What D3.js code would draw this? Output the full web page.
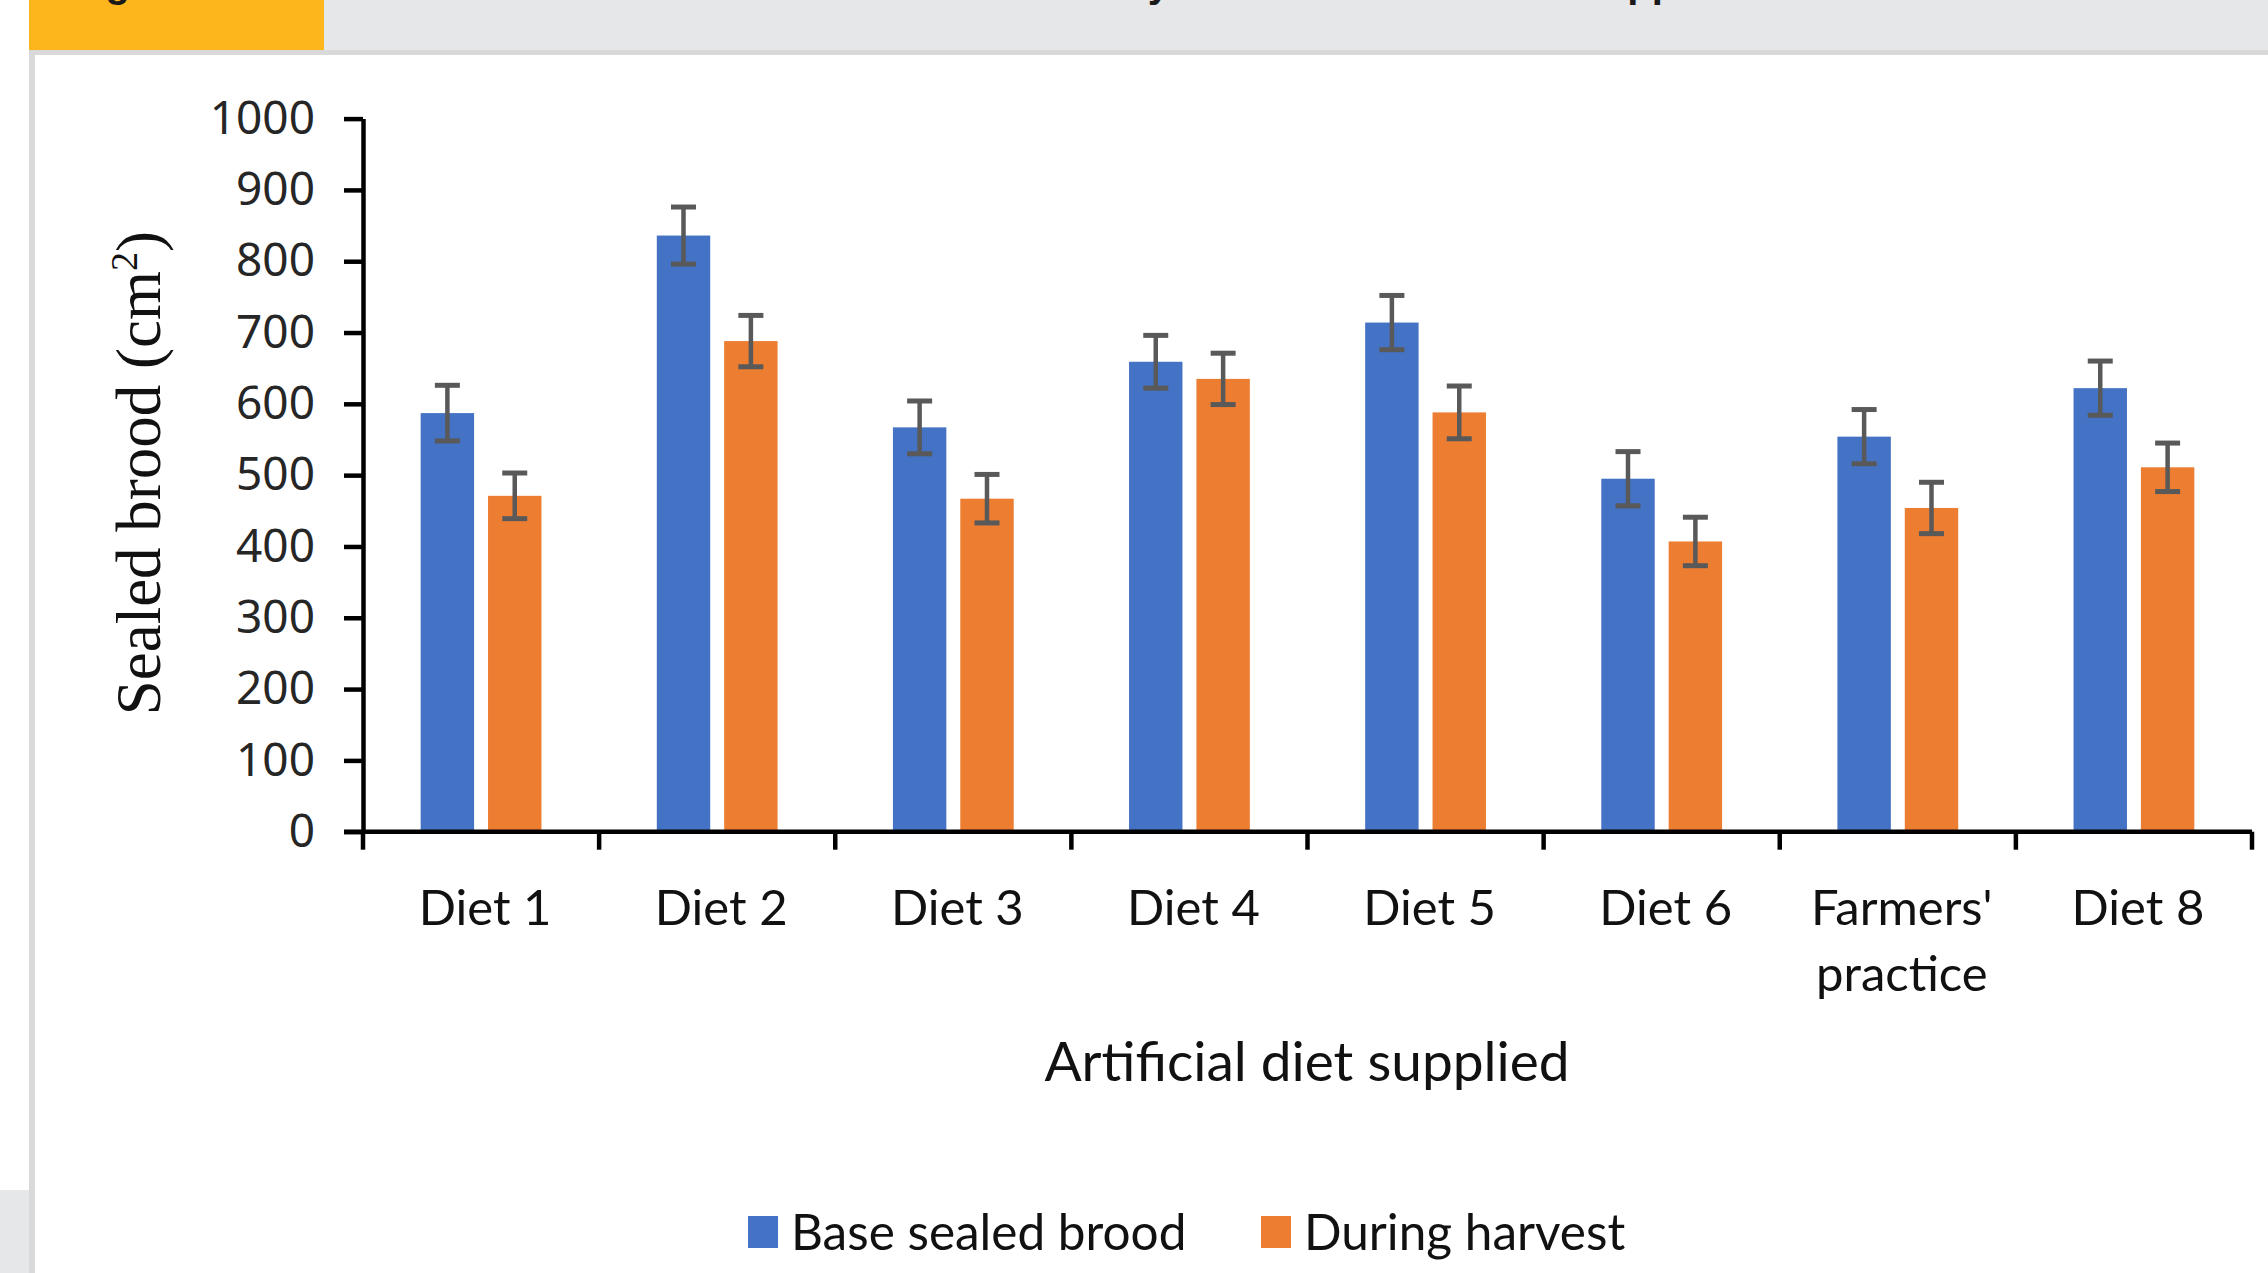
<!DOCTYPE html>
<html>
<head>
<meta charset="utf-8">
<script src="https://cdn.jsdelivr.net/npm/d3@7"></script>
<style>
  body { margin: 0; background: #fff; }
  svg { display: block; }
</style>
</head>
<body>
<div id="chart"></div>
<script>
// values
const categories = ["Diet 1", "Diet 2", "Diet 3", "Diet 4", "Diet 5", "Diet 6", "Farmers' practice", "Diet 8"];
const seriesNames = ["Base sealed brood", "During harvest"];
const baseSealed = [587, 836, 567, 659, 714, 495, 554, 622];
const baseErr = [39, 40, 37, 37, 38, 38, 38, 38];
const duringHarvest = [471, 688, 467, 635, 588, 407, 454, 511];
const harvestErr = [32, 36, 34, 36, 37, 34, 36, 34];
const yTicks = [0, 100, 200, 300, 400, 500, 600, 700, 800, 900, 1000];

const W = 2268, H = 1273;
const colors = ["#4472C4", "#ED7D31"];

const svg = d3.select("#chart").append("svg")
    .attr("width", W)
    .attr("height", H);

// page frame around the figure
svg.append("rect").attr("x", 29).attr("y", 0).attr("width", 295).attr("height", 50).attr("fill", "#FDB61B");
svg.append("rect").attr("x", 324).attr("y", 0).attr("width", W - 324).attr("height", 50).attr("fill", "#E6E7E9");
svg.append("rect").attr("x", 29).attr("y", 50).attr("width", W - 29).attr("height", 5).attr("fill", "#D9D9D9");
svg.append("rect").attr("x", 29).attr("y", 50).attr("width", 6).attr("height", H - 50).attr("fill", "#D9D9D9");
svg.append("rect").attr("x", 0).attr("y", 1190).attr("width", 29).attr("height", H - 1190).attr("fill", "#E6E7E9");

// caption, cut off at the top edge like in the source page
const cap = svg.append("g")
    .attr("font-family", "Liberation Sans").attr("font-weight", "bold").attr("font-size", 40)
    .attr("fill", "#1a1a1a");
cap.append("text").attr("x", 70).attr("y", -3).text("Figure 3");
cap.append("text").attr("x", 1170).attr("y", -3).attr("text-anchor", "end").text("Sealed brood area by");
cap.append("text").attr("x", 1745).attr("y", -3).attr("text-anchor", "end").text("artificial diet supplied");

const plotLeft = 363, plotRight = 2252, plotTop = 118.6, plotBottom = 831.7;

const x = d3.scaleBand().domain(categories).range([plotLeft, plotRight]).paddingInner(0).paddingOuter(0);
const xs = d3.scaleBand().domain(seriesNames).range([0, x.bandwidth()])
    .paddingInner(0.207).paddingOuter(0.856);
const y = d3.scaleLinear().domain([0, 1000]).range([plotBottom, plotTop]);

const series = [
  { name: seriesNames[0], values: baseSealed, errs: baseErr },
  { name: seriesNames[1], values: duringHarvest, errs: harvestErr }
];

// bars
series.forEach((s, si) => {
  svg.append("g").selectAll("rect")
    .data(categories)
    .enter().append("rect")
    .attr("x", d => x(d) + xs(s.name))
    .attr("y", (d, i) => y(s.values[i]))
    .attr("width", xs.bandwidth())
    .attr("height", (d, i) => y(0) - y(s.values[i]))
    .attr("fill", colors[si]);
});

// error bars
series.forEach((s) => {
  const g = svg.append("g").attr("stroke", "#595959").attr("stroke-width", 4.5);
  categories.forEach((c, i) => {
    const cx = x(c) + xs(s.name) + xs.bandwidth() / 2;
    const hi = y(s.values[i] + s.errs[i]);
    const lo = y(s.values[i] - s.errs[i]);
    g.append("line").attr("x1", cx).attr("x2", cx).attr("y1", hi).attr("y2", lo);
    g.append("line").attr("x1", cx - 12.5).attr("x2", cx + 12.5).attr("y1", hi).attr("y2", hi).attr("stroke-width", 5);
    g.append("line").attr("x1", cx - 12.5).attr("x2", cx + 12.5).attr("y1", lo).attr("y2", lo).attr("stroke-width", 5);
  });
});

// y axis
const yAxis = svg.append("g")
    .attr("transform", `translate(${plotLeft},0)`)
    .call(d3.axisLeft(y).tickValues(yTicks).tickFormat(d3.format("d"))
      .tickSize(19).tickPadding(29).tickSizeOuter(0));
yAxis.select(".domain").attr("stroke", "#000").attr("stroke-width", 4.5);
yAxis.selectAll(".tick line").attr("stroke", "#000").attr("stroke-width", 4.5);
yAxis.selectAll(".tick text")
    .attr("font-family", "Noto Sans").attr("font-size", 46).attr("fill", "#262626");

// x axis: ticks at category boundaries
const xAxis = svg.append("g")
    .attr("transform", `translate(0,${plotBottom})`)
    .call(d3.axisBottom(x).tickSize(0).tickSizeOuter(0).tickFormat(""));
xAxis.select(".domain").attr("stroke", "#000").attr("stroke-width", 4.5)
    .attr("d", `M${plotLeft - 19},0H${plotRight}`);
const bounds = categories.map(c => x(c)).concat([x.range()[1]]);
xAxis.selectAll(".bound").data(bounds).enter().append("line")
    .attr("x1", d => d).attr("x2", d => d)
    .attr("y1", 0).attr("y2", 18)
    .attr("stroke", "#000").attr("stroke-width", 4.5);

// category labels (long ones wrap to two lines)
xAxis.selectAll(".tick").each(function (d) {
  const lines = d.length > 8 ? d.split(" ") : [d];
  const t = d3.select(this).append("text")
      .attr("font-family", "Lato").attr("font-size", 49).attr("fill", "#111")
      .attr("text-anchor", "middle");
  lines.forEach((ln, k) => {
    t.append("tspan").attr("x", 4).attr("y", 93 + k * 66).text(ln);
  });
});

// axis titles
svg.append("text")
    .attr("transform", `translate(160,${(plotTop + plotBottom) / 2 - 2}) rotate(-90)`)
    .attr("text-anchor", "middle")
    .attr("font-family", "Liberation Serif").attr("font-size", 63).attr("fill", "#111")
    .html('Sealed brood (cm<tspan dy="-23" font-size="38">2</tspan><tspan dy="23">)</tspan>');

svg.append("text")
    .attr("x", 1307).attr("y", 1081)
    .attr("text-anchor", "middle")
    .attr("font-family", "Lato").attr("font-size", 55).attr("fill", "#111")
    .text("Artificial diet supplied");

// legend
const legendX = [748, 1261];
const legend = svg.append("g");
seriesNames.forEach((n, i) => {
  legend.append("rect").attr("x", legendX[i]).attr("y", 1216).attr("width", 30).attr("height", 32)
      .attr("fill", colors[i]);
  legend.append("text").attr("x", legendX[i] + 43).attr("y", 1250)
      .attr("font-family", "Lato").attr("font-size", 49.5).attr("fill", "#111")
      .text(n);
});
</script>
</body>
</html>
